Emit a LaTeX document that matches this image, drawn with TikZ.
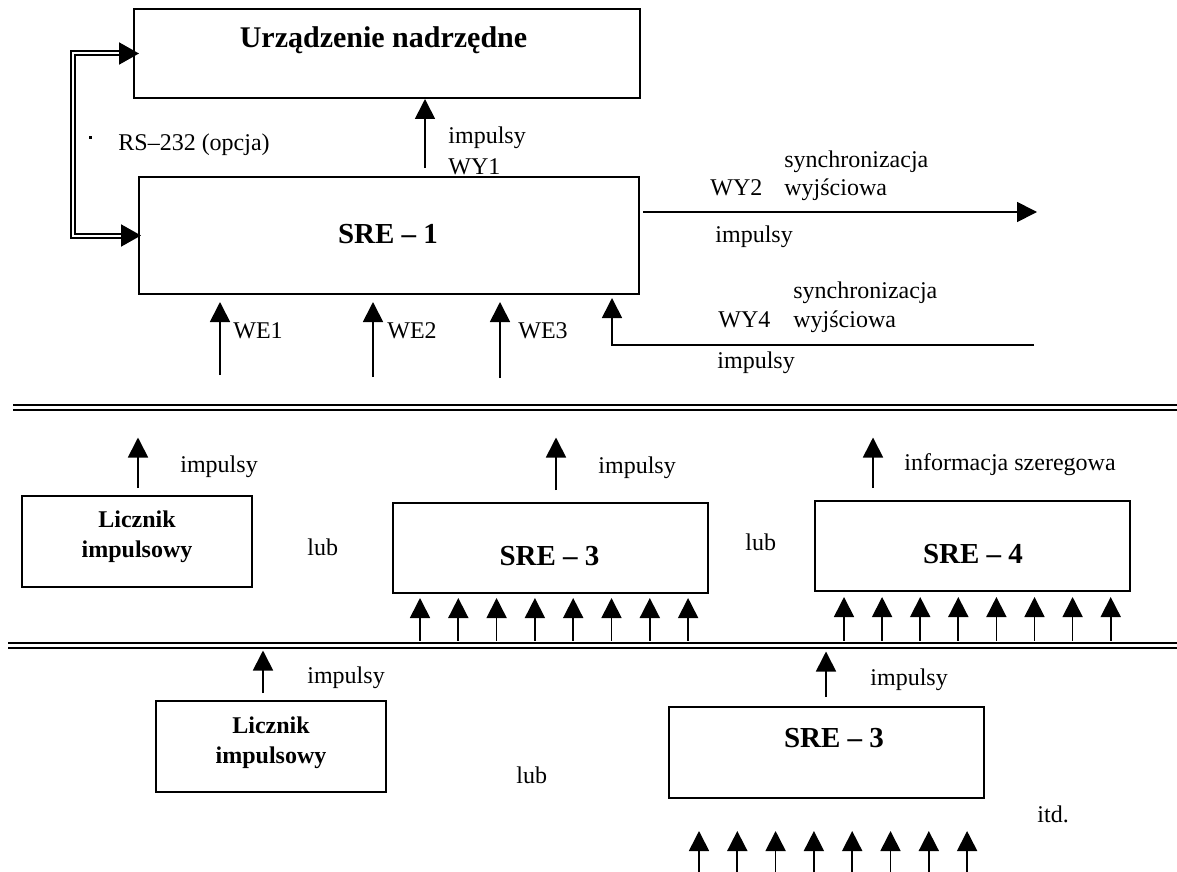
\documentclass[tikz,border=0pt]{standalone}
\usepackage{fontspec}
\setmainfont{Liberation Serif}
\usetikzlibrary{arrows.meta,calc,fit}

\begin{document}
\begin{tikzpicture}[x=0.5pt,y=-0.5pt,
  box/.style={draw, line width=1pt, rectangle, inner sep=0pt},
  arr/.style={line width=0.85pt, -{Triangle[length=10pt,width=10pt]}},
  lbl/.style={anchor=base west, inner sep=0pt, font=\fontsize{12}{14}\selectfont},
  boxlbl/.style={anchor=base, inner sep=0pt, font=\fontsize{14.5}{17}\selectfont\bfseries},
  cntlbl/.style={anchor=base, inner sep=0pt, align=center, font=\fontsize{12}{14.75}\selectfont\bfseries},
  bus/.style={line width=1pt, double, double distance=1.4pt},
  rs/.style={line width=1pt, double, double distance=1pt,
    {Triangle[length=10pt,width=11pt]}-{Triangle[length=10pt,width=11pt]}},
]
\useasboundingbox (0,0) rectangle (1177,872);

% blocks
\node[box, fit={(134,9) (640,98)}] (urz) {};
\node[box, fit={(139,177) (639,294)}] (sre1) {};
\node[box, fit={(22,496) (252,587)}] (lic1) {};
\node[box, fit={(393,503) (708,593)}] (sre3a) {};
\node[box, fit={(815,501) (1130,591)}] (sre4) {};
\node[box, fit={(156,701) (386,792)}] (lic2) {};
\node[box, fit={(669,707) (984,798)}] (sre3b) {};

% block titles (two-line titles are anchored at the baseline of their last line)
\node[boxlbl, font=\fontsize{15}{18}\selectfont\bfseries] (turz) at (383.5,48) {Urządzenie nadrzędne};
\node[boxlbl] (tsre1) at (388,243) {SRE – 1};
\node[boxlbl] (tsre3a) at (549.5,565) {SRE – 3};
\node[boxlbl] (tsre4) at (973,563) {SRE – 4};
\node[boxlbl] (tsre3b) at (834,747) {SRE – 3};
\node[cntlbl] (tlic1) at (137,557) {Licznik\\impulsowy};
\node[cntlbl] (tlic2) at (271,763) {Licznik\\impulsowy};

% RS-232 link
\draw[rs, shorten <=-3pt, shorten >=-1.5pt] (urz.west) -- ++(-60,0) |- (sre1.west);
\fill (89,136) rectangle (91.5,138.5);
\node[lbl] (lrs) at (118,150) {RS–232 (opcja)};

% WY1
\coordinate (wy1) at (425,168);
\draw[arr] (wy1) -- (wy1 |- urz.south);
\node[lbl] (lwy1a) at (448,143) {impulsy};
\node[lbl] (lwy1b) at (448,174) {WY1};

% WY2
\coordinate (wy2) at (1037,212);
\draw[arr] ([xshift=1.5pt]sre1.east |- wy2) -- (wy2);
\node[lbl] (lwy2s) at (784,167) {synchronizacja};
\node[lbl] (lwy2n) at (710,195) {WY2};
\node[lbl] (lwy2w) at (784,195) {wyjściowa};
\node[lbl] (lwy2i) at (715,242) {impulsy};

% WY4
\coordinate (wy4) at (1034,345);
\draw[arr] (wy4) -| ($(sre1.south west)+(474,3)$);
\node[lbl] (lwy4s) at (793,298) {synchronizacja};
\node[lbl] (lwy4n) at (718,327) {WY4};
\node[lbl] (lwy4w) at (793,327) {wyjściowa};
\node[lbl] (lwy4i) at (717,368) {impulsy};

% WE inputs
\coordinate (we1) at (220,375);
\coordinate (we2) at (373,377);
\coordinate (we3) at (500,378);
\foreach \w in {we1,we2,we3}
  \draw[arr] (\w) -- ($(\w |- sre1.south)+(0,7)$);
\node[lbl] (lwe1) at (233,338) {WE1};
\node[lbl] (lwe2) at (387,338) {WE2};
\node[lbl] (lwe3) at (518,338) {WE3};

% buses
\coordinate (b1l) at (13,407.5);
\coordinate (b1r) at (1177,407.5);
\coordinate (b2l) at (8,645.5);
\coordinate (b2r) at (1177,645.5);
\draw[bus] (b1l) -- (b1r);
\draw[bus] (b2l) -- (b2r);

% first alternative row
\coordinate (o1) at (138,488);
\coordinate (o2) at (556,490);
\coordinate (o3) at (873,488);
\draw[arr] (o1) -- ($(o1 |- b1l)+(0,30)$);
\draw[arr] (o2) -- ($(o2 |- b1l)+(0,30)$);
\draw[arr] (o3) -- ($(o3 |- b1l)+(0,30)$);
\node[lbl] (li1) at (180,472) {impulsy};
\node[lbl] (lub1) at (307,555) {lub};
\node[lbl] (li2) at (598,473) {impulsy};
\node[lbl] (lub2) at (745,550) {lub};
\node[lbl] (linf) at (904,470) {informacja szeregowa};
\foreach \i in {0,...,7} {
  \draw[arr] ($(sre3a.south west |- b2l)+(28+38.3*\i,-5)$) coordinate (a) -- ($(a |- sre3a.south)+(0,4)$);
  \draw[arr] ($(sre4.south west |- b2l)+(30+38.1*\i,-5)$) coordinate (a) -- ($(a |- sre4.south)+(0,5)$);
}

% second alternative row
\coordinate (o4) at (263,693);
\coordinate (o5) at (826,697);
\draw[arr] (o4) -- ($(o4 |- b2l)+(0,5)$);
\draw[arr] (o5) -- ($(o5 |- b2l)+(0,6)$);
\node[lbl] (li3) at (307,683) {impulsy};
\node[lbl] (lub3) at (516,783) {lub};
\node[lbl] (li4) at (870,685) {impulsy};
\node[lbl] (litd) at (1037,822) {itd.};
\foreach \i in {0,...,7}
  \draw[arr] ($(sre3b.south west)+(31+38.3*\i,76)$) coordinate (a) -- ($(a |- sre3b.south)+(0,32)$);
\end{tikzpicture}
\end{document}
